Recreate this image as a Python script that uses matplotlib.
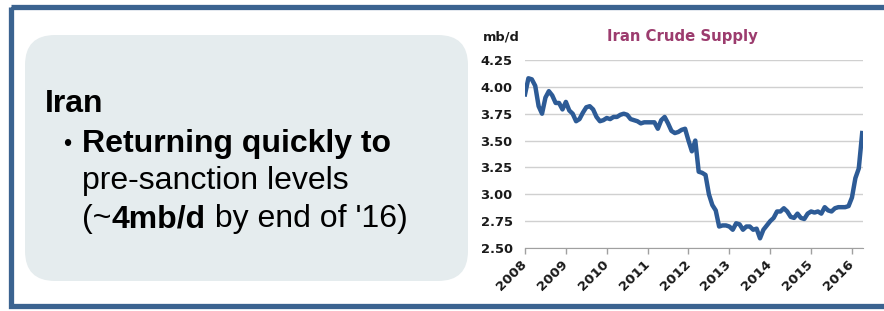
import matplotlib
matplotlib.use("Agg")
import matplotlib.pyplot as plt
import numpy as np
from matplotlib.patches import FancyBboxPatch, Rectangle

# Iran crude supply, mb/d, monthly from Jan 2008
start_year = 2008
supply = [
    3.93, 4.08, 4.07, 4.01, 3.82, 3.75, 3.90, 3.96, 3.92, 3.85, 3.85, 3.79,
    3.86, 3.78, 3.75, 3.68, 3.70, 3.76, 3.81, 3.82, 3.79, 3.72, 3.68, 3.69,
    3.71, 3.70, 3.72, 3.72, 3.74, 3.75, 3.74, 3.70, 3.69, 3.68, 3.66, 3.67,
    3.67, 3.67, 3.67, 3.61, 3.69, 3.72, 3.66, 3.59, 3.57, 3.58, 3.60, 3.61,
    3.50, 3.40, 3.50, 3.21, 3.20, 3.18, 3.00, 2.90, 2.85, 2.70, 2.71, 2.71,
    2.70, 2.67, 2.73, 2.72, 2.67, 2.70, 2.70, 2.67, 2.68, 2.59, 2.67, 2.71,
    2.75, 2.78, 2.84, 2.84, 2.87, 2.84, 2.79, 2.78, 2.82, 2.78, 2.77, 2.82,
    2.84, 2.83, 2.84, 2.82, 2.88, 2.85, 2.84, 2.87, 2.88, 2.88, 2.88, 2.89,
    2.97, 3.15, 3.24, 3.57,
]
year_ticks = [2008, 2009, 2010, 2011, 2012, 2013, 2014, 2015, 2016]
y_ticks = [2.50, 2.75, 3.00, 3.25, 3.50, 3.75, 4.00, 4.25]

W, H = 884, 311
fig = plt.figure(figsize=(W / 100, H / 100), dpi=100)

# background layer in pixel coordinates
bg = fig.add_axes([0, 0, 1, 1])
bg.set_xlim(0, W)
bg.set_ylim(H, 0)
bg.axis("off")
bg.add_patch(Rectangle((10.5, 7), 900, 299, fill=False, ec="#3b6390", lw=3.8))
bg.add_patch(FancyBboxPatch((25 + 30, 35 + 30), 443 - 60, 246 - 60,
                            boxstyle="round,pad=30", fc="#e5ecee", ec="none"))

fam = "Liberation Sans"
fs = 23
bg.text(45, 112, "Iran", fontsize=fs, fontweight="bold", family=fam, va="baseline")
bg.text(63, 151, "\u2022", fontsize=17, family=fam, va="baseline")
bg.text(82, 152, "Returning quickly to", fontsize=fs, fontweight="bold", family=fam, va="baseline")
bg.text(82, 189, "pre-sanction levels", fontsize=fs, family=fam, va="baseline")
t1 = bg.text(82, 227, "(~", fontsize=fs, family=fam, va="baseline")
t2 = bg.annotate("4mb/d", xy=(1, 0), xycoords=t1, fontsize=fs, fontweight="bold",
                 family=fam, va="bottom")
bg.annotate(" by end of '16)", xy=(1, 0), xycoords=t2, fontsize=fs, family=fam, va="bottom")

# chart
ax = fig.add_axes([525 / W, 1 - 248 / H, (863 - 525) / W, (248 - 60) / H])
x = start_year + np.arange(len(supply)) / 12
ax.plot(x, supply, color="#2d5b96", lw=3.2, solid_joinstyle="round", zorder=3)
ax.set_xlim(2008, 2016.27)
ax.set_ylim(2.5, 4.25)
ax.set_yticks(y_ticks)
ax.set_yticklabels(["%.2f" % v for v in y_ticks], fontsize=9.4, fontweight="bold",
                   family="DejaVu Sans", color="#1a1a1a")
ax.set_xticks(year_ticks)
ax.set_xticklabels([str(v) for v in year_ticks], fontsize=9.6, fontweight="bold",
                   family="DejaVu Sans", color="#1a1a1a")
plt.setp(ax.get_xticklabels(), rotation=45, ha="right", va="center", rotation_mode="anchor")
ax.tick_params(axis="y", length=0, pad=9)
ax.tick_params(axis="x", length=4.5, width=1, color="#a0a0a0", pad=6)
for s in ["top", "right", "left"]:
    ax.spines[s].set_visible(False)
ax.spines["bottom"].set_color("#a0a0a0")
ax.yaxis.grid(True, color="#d0d0d0", lw=1)
ax.set_axisbelow(True)
ax.patch.set_alpha(0)

fig.text(682 / W, 1 - 37 / H, "Iran Crude Supply", fontsize=10.7, fontweight="bold",
         family="DejaVu Sans", color="#9c3c6e", ha="center", va="center")
fig.text(483 / W, 1 - 37 / H, "mb/d", fontsize=9.4, fontweight="bold",
         family="DejaVu Sans", color="#1a1a1a", ha="left", va="center")

fig.savefig("out.png", dpi=100)
